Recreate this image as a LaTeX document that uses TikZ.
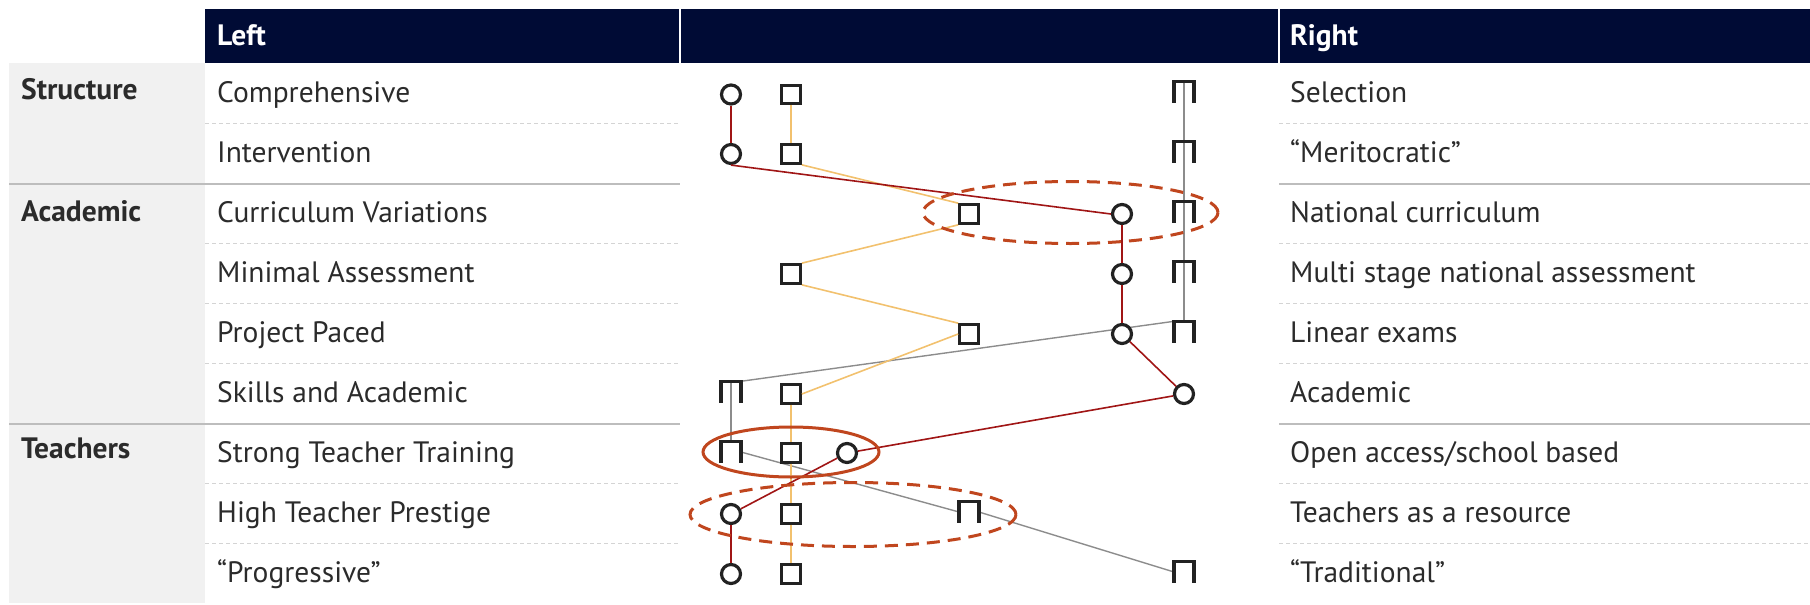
\documentclass[tikz,border=0pt]{standalone}
\usepackage{fontspec}
\setmainfont{PT Sans}
\definecolor{navy}{HTML}{000B35}
\definecolor{txt}{HTML}{2B2B2B}
\definecolor{mk}{HTML}{222222}
\definecolor{redc}{HTML}{A01515}
\definecolor{orc}{HTML}{F2C16E}
\definecolor{grc}{HTML}{8C8C8C}
\definecolor{sepc}{HTML}{D4D4D4}
\definecolor{catc}{HTML}{BDBDBD}
\definecolor{hlc}{HTML}{C0461E}
\definecolor{bandc}{HTML}{F1F1F1}
\newcommand\pimark[1]{\draw[pidraw] (#1.south west) -- (#1.north west) -- (#1.north east) -- (#1.south east);}
\begin{document}
\begin{tikzpicture}[x=1pt,y=-1pt,
  lab/.style={anchor=mid west, font=\fontsize{29.5}{34}\selectfont, text=txt, inner sep=0pt},
  cat/.style={lab, font=\fontsize{29.5}{34}\selectfont\bfseries},
  hdr/.style={lab, font=\fontsize{29.5}{34}\selectfont\bfseries, text=white},
  circ/.style={circle, draw=mk, line width=3.2pt, fill=white, minimum size=19pt, inner sep=0pt},
  sq/.style={rectangle, draw=mk, line width=3.2pt, fill=white, minimum size=18.5pt, inner sep=0pt},
  pinode/.style={rectangle, minimum width=19.5pt, minimum height=21pt, inner sep=0pt},
  pidraw/.style={draw=mk, line width=3.2pt},
  redln/.style={draw=redc, line width=1.6pt},
  orln/.style={draw=orc, line width=1.6pt},
  grln/.style={draw=grc, line width=1.4pt},
  sepln/.style={draw=sepc, line width=1.2pt, dash pattern=on 4pt off 3pt},
  catln/.style={draw=catc, line width=2pt},
  hl/.style={draw=hlc, line width=3pt},
  hldash/.style={hl, dash pattern=on 13pt off 8pt},
]
\useasboundingbox (0,0) rectangle (1810,605);
% backgrounds
\fill[bandc] (9,63) rectangle (205,603);
\fill[navy] (205,9) rectangle (1810,63);
\draw[white, line width=1.5pt] (680,9) -- (680,63);
\draw[white, line width=1.5pt] (1279,9) -- (1279,63);
\node[hdr] (hl) at (217,43) {Left};
\node[hdr] (hr) at (1290,43) {Right};
% separators
\foreach \y in {123.5,243.5,303.5,363.5,483.5,543.5}{
  \draw[sepln] (205,\y) -- (680,\y);
  \draw[sepln] (1279,\y) -- (1810,\y);
}
\foreach \y in {183.5,423.5}{
  \draw[catln] (9,\y) -- (680,\y);
  \draw[catln] (1279,\y) -- (1810,\y);
}
% categories
\node[cat] (k1) at (21,97) {Structure};
\node[cat] (k2) at (21,219) {Academic};
\node[cat] (k3) at (21,456) {Teachers};
% left labels
\node[lab] (l1) at (217,100) {Comprehensive};
\node[lab] (l2) at (217,160) {Intervention};
\node[lab] (l3) at (217,220) {Curriculum Variations};
\node[lab] (l4) at (217,280) {Minimal Assessment};
\node[lab] (l5) at (217,340) {Project Paced};
\node[lab] (l6) at (217,400) {Skills and Academic};
\node[lab] (l7) at (217,460) {Strong Teacher Training};
\node[lab] (l8) at (217,520) {High Teacher Prestige};
\node[lab] (l9) at (217,580) {“Progressive”};
% right labels
\node[lab] (r1) at (1290,100) {Selection};
\node[lab] (r2) at (1290,160) {“Meritocratic”};
\node[lab] (r3) at (1290,220) {National curriculum};
\node[lab] (r4) at (1290,280) {Multi stage national assessment};
\node[lab] (r5) at (1290,340) {Linear exams};
\node[lab] (r6) at (1290,400) {Academic};
\node[lab] (r7) at (1290,460) {Open access/school based};
\node[lab] (r8) at (1290,520) {Teachers as a resource};
\node[lab] (r9) at (1290,580) {“Traditional”};
% pi node placeholders
\node[pinode] (p1) at (1184,92) {};
\node[pinode] (p2) at (1184,152) {};
\node[pinode] (p3) at (1184,212) {};
\node[pinode] (p4) at (1184,272) {};
\node[pinode] (p5) at (1184,332) {};
\node[pinode] (p6) at (731,392) {};
\node[pinode] (p7) at (731,452) {};
\node[pinode] (p8) at (969,512) {};
\node[pinode] (p9) at (1184,572) {};
% connectors (gray)
\draw[grln] (p1.north) -- (p5.north);
\draw[grln] (p5.north west) -- (p6.north east);
\draw[grln] (p6.north) -- (p7.north);
\draw[grln] (p7.east) -- (p8.west);
\draw[grln] (p8.east) -- (p9.west);
% circles
\node[circ] (c1) at (731,94.5) {};
\node[circ] (c2) at (731,154) {};
\node[circ] (c3) at (1122,214) {};
\node[circ] (c4) at (1122,274) {};
\node[circ] (c5) at (1122,334) {};
\node[circ] (c6) at (1184,394) {};
\node[circ] (c7) at (847,453) {};
\node[circ] (c8) at (731,514) {};
\node[circ] (c9) at (731,574) {};
% squares
\node[sq] (s1) at (791,94.5) {};
\node[sq] (s2) at (791,154) {};
\node[sq] (s3) at (969,214) {};
\node[sq] (s4) at (791,274) {};
\node[sq] (s5) at (969,334) {};
\node[sq] (s6) at (791,394) {};
\node[sq] (s7) at (791,453) {};
\node[sq] (s8) at (791,514) {};
\node[sq] (s9) at (791,574) {};
% connectors (orange)
\draw[orln] (s1) -- (s2);
\draw[orln] (s2.south east) -- (s3.north west);
\draw[orln] (s3.south west) -- (s4.north east);
\draw[orln] (s4.south east) -- (s5.north west);
\draw[orln] (s5.west) -- (s6.east);
\draw[orln] (s6) -- (s7);
\draw[orln] (s7) -- (s8);
\draw[orln] (s8) -- (s9);
% connectors (red)
\draw[redln] (c1) -- (c2);
\draw[redln] (c2.south) -- (c3.west);
\draw[redln] (c3) -- (c4);
\draw[redln] (c4) -- (c5);
\draw[redln] (c5) -- (c6);
\draw[redln] (c6) -- (c7);
\draw[redln] (c7) -- (c8);
\draw[redln] (c8) -- (c9);
% pi marks
\pimark{p1}\pimark{p2}\pimark{p3}\pimark{p4}\pimark{p5}
\pimark{p6}\pimark{p7}\pimark{p8}\pimark{p9}
% highlight ellipses
\draw[hldash] (1070.5,212.5) ellipse [x radius=147.5, y radius=31];
\draw[hl] (791,452) ellipse [x radius=88, y radius=25];
\draw[hldash] (853,514.5) ellipse [x radius=163, y radius=32];
\end{tikzpicture}
\end{document}
